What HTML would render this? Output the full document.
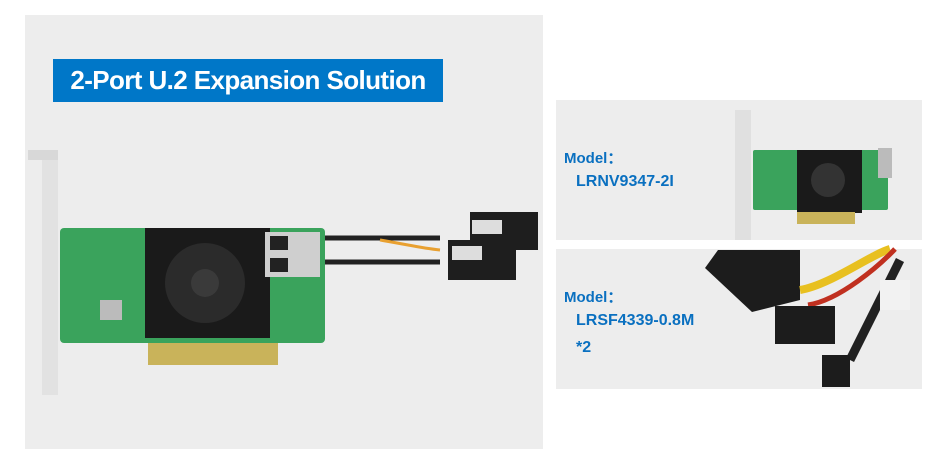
<!DOCTYPE html><html><head><style>
body{margin:0;width:950px;height:472px;background:#fff;position:relative;overflow:hidden;font-family:"Liberation Sans",sans-serif}
.p{position:absolute;background:#ededed}
.t{position:absolute;left:53px;top:59px;width:390px;height:43px;background:#0077c8;color:#fff;font-size:26px;font-weight:bold;line-height:43px;text-align:center;letter-spacing:-0.6px}
.m{position:absolute;color:#0a70c0;font-size:15px;font-weight:bold}
</style></head><body>
<div class="p" style="left:25px;top:15px;width:518px;height:434px"></div>
<div class="t">2-Port U.2 Expansion Solution</div>
<svg style="position:absolute;left:0;top:0" width="950" height="472">
<polygon points="28,150 58,150 58,395 42,395 42,160 28,160" fill="#d8d8d8"/>
<rect x="42" y="160" width="16" height="235" fill="#e2e2e2"/>
<rect x="60" y="228" width="265" height="115" rx="4" fill="#3aa35c"/>
<rect x="145" y="228" width="125" height="110" fill="#1a1a1a"/>
<circle cx="205" cy="283" r="40" fill="#2b2b2b"/>
<circle cx="205" cy="283" r="14" fill="#3a3a3a"/>
<rect x="148" y="343" width="130" height="22" fill="#c9b35a"/>
<rect x="265" y="232" width="55" height="45" fill="#cfcfcf"/>
<rect x="270" y="236" width="18" height="14" fill="#222"/><rect x="270" y="258" width="18" height="14" fill="#222"/>
<rect x="100" y="300" width="22" height="20" fill="#bbb"/>
<path d="M325,238 L440,238 M325,262 L440,262" stroke="#222" stroke-width="5"/>
<path d="M380,240 C410,245 420,248 440,250" stroke="#e8a030" stroke-width="3" fill="none"/>
<rect x="470" y="212" width="68" height="38" fill="#1e1e1e"/>
<rect x="448" y="240" width="68" height="40" fill="#1e1e1e"/>
<rect x="472" y="220" width="30" height="14" fill="#ddd"/><rect x="452" y="246" width="30" height="14" fill="#ddd"/>
</svg>
<div class="p" style="left:556px;top:100px;width:366px;height:140px"></div>
<div class="p" style="left:556px;top:249px;width:366px;height:140px"></div>
<div class="m" style="left:564px;top:147px">Model：</div>
<div class="m" style="left:576px;top:173px;font-size:16px">LRNV9347-2I</div>
<div class="m" style="left:564px;top:286px">Model：</div>
<div class="m" style="left:576px;top:312px;font-size:16px">LRSF4339-0.8M</div>
<div class="m" style="left:576px;top:339px;font-size:16px">*2</div>
<svg style="position:absolute;left:0;top:0" width="950" height="472">
<rect x="735" y="110" width="16" height="130" fill="#e0e0e0"/>
<rect x="753" y="150" width="135" height="60" rx="2" fill="#3aa35c"/>
<rect x="797" y="150" width="65" height="63" fill="#1a1a1a"/>
<circle cx="828" cy="180" r="17" fill="#333"/>
<rect x="797" y="212" width="58" height="12" fill="#c9b35a"/>
<rect x="878" y="148" width="14" height="30" fill="#bbb"/>
<polygon points="718,250 800,250 800,300 752,312 705,268" fill="#1c1c1c"/>
<path d="M800,290 C830,285 870,255 890,249" stroke="#e8c020" stroke-width="8" fill="none"/>
<path d="M808,305 C840,300 880,265 895,249" stroke="#c03020" stroke-width="5" fill="none"/>
<rect x="775" y="306" width="60" height="38" fill="#1c1c1c"/>
<path d="M900,260 L870,320 L850,360" stroke="#222" stroke-width="9" fill="none"/>
<rect x="880" y="280" width="30" height="30" fill="#f2f2f2"/>
<rect x="822" y="355" width="28" height="32" fill="#1c1c1c"/>
</svg>
</body></html>
